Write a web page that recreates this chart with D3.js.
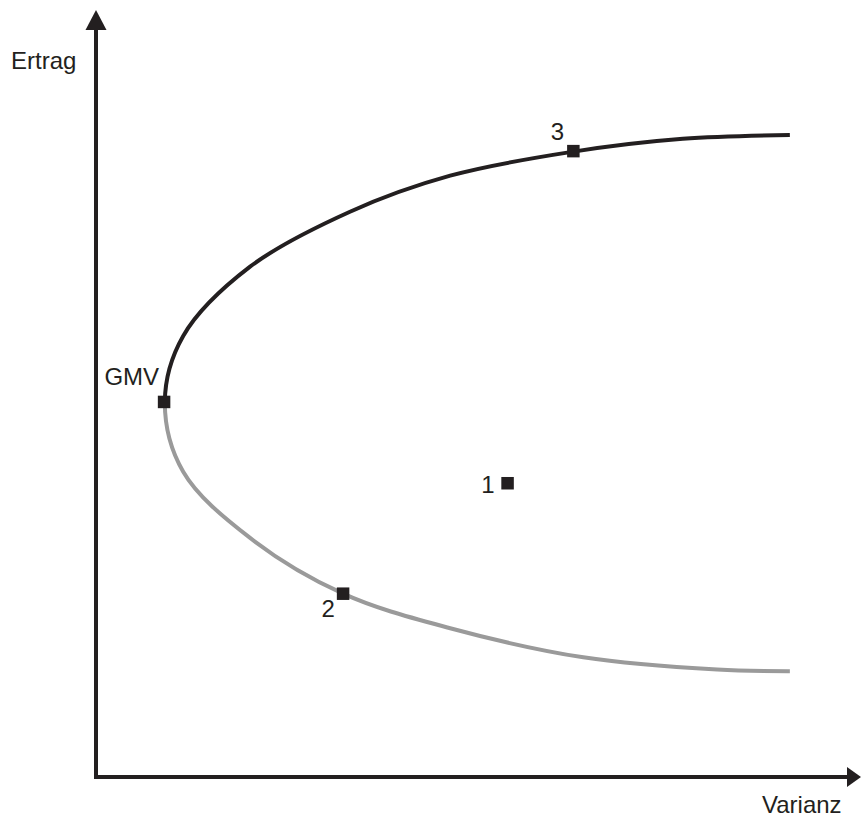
<!DOCTYPE html>
<html lang="de">
<head>
  <meta charset="UTF-8">
  <title>Effizienzkurve</title>
  <style>
    body { margin: 0; background: #fff; }
    text { font-family: "Liberation Sans", Arial, sans-serif; fill: #231f20; }
  </style>
</head>
<body>
<script src="https://d3js.org/d3.v7.min.js"></script>
<div id="chart"></div>
<script>
  // DATA ======================================================================
  // frontier traced from the lower end, through the GMV vertex, to the upper end
  const frontierVarianz = [90.7, 81.2, 63.7, 46.3, 32.3, 20.1, 11.4, 9.0,
                           11.4, 20.1, 33.2, 46.3, 62.2, 76.7, 90.7];
  const frontierErtrag  = [13.8, 14.0, 15.6, 19.4, 23.9, 31.2, 39.8, 48.9,
                           57.5, 66.5, 73.7, 78.4, 81.5, 83.2, 83.7];

  const pointNames   = ["GMV", "3", "2", "1"];
  const pointVarianz = [8.9, 62.4, 32.3, 53.8];
  const pointErtrag  = [48.9, 81.6, 23.9, 38.3];

  const gmvErtrag = 48.9;
  const xLabel = "Varianz", yLabel = "Ertrag";

  // PLOT AREA =================================================================
  const W = 861, H = 817;
  const ink = "#231f20";

  const svg = d3.select("#chart").append("svg")
      .attr("width", W).attr("height", H);

  const x = d3.scaleLinear().domain([0, 100]).range([96, 861]);
  const y = d3.scaleLinear().domain([0, 100]).range([777, 10]);

  // AXES (plain lines with arrow heads) =======================================
  const axes = svg.append("g").attr("stroke", ink).attr("stroke-width", 4);
  axes.append("line")
      .attr("x1", x(0)).attr("x2", x(0))
      .attr("y1", y(0) + 2).attr("y2", y(100) + 18);
  axes.append("line")
      .attr("x1", x(0) - 2).attr("x2", x(100) - 12)
      .attr("y1", y(0)).attr("y2", y(0));

  svg.append("path")
      .attr("fill", ink)
      .attr("d", `M${x(0)},${y(100)} L${x(0) + 10.5},${y(100) + 20} L${x(0) - 10.5},${y(100) + 20}Z`);
  svg.append("path")
      .attr("fill", ink)
      .attr("d", `M${x(100)},${y(0)} L${x(100) - 14},${y(0) - 10} L${x(100) - 14},${y(0) + 10}Z`);

  svg.append("text").attr("x", 11).attr("y", 69)
      .style("font-size", "24px").text(yLabel);
  svg.append("text").attr("x", 762).attr("y", 813)
      .style("font-size", "24px").text(xLabel);

  // FRONTIER ==================================================================
  const frontier = frontierVarianz.map((v, i) => ({v: v, e: frontierErtrag[i]}));
  const line = d3.line()
      .x(d => x(d.v))
      .y(d => y(d.e))
      .curve(d3.curveCatmullRom.alpha(0.5));

  // one path, split in colour at the GMV level
  const defs = svg.append("defs");
  defs.append("clipPath").attr("id", "upper")
    .append("rect").attr("x", 0).attr("y", 0).attr("width", W).attr("height", y(gmvErtrag));
  defs.append("clipPath").attr("id", "lower")
    .append("rect").attr("x", 0).attr("y", y(gmvErtrag)).attr("width", W).attr("height", H - y(gmvErtrag));

  svg.append("path").datum(frontier)
      .attr("clip-path", "url(#lower)")
      .attr("fill", "none").attr("stroke", "#9a9a9a").attr("stroke-width", 4)
      .attr("d", line);
  svg.append("path").datum(frontier)
      .attr("clip-path", "url(#upper)")
      .attr("fill", "none").attr("stroke", ink).attr("stroke-width", 4)
      .attr("d", line);

  // POINTS ====================================================================
  const points = pointNames.map((n, i) => ({name: n, v: pointVarianz[i], e: pointErtrag[i]}));
  const labelOffset = {
    "GMV": {dx: -5, dy: -17, anchor: "end"},
    "3":   {dx: -16, dy: -11, anchor: "middle"},
    "2":   {dx: -15, dy: 23, anchor: "middle"},
    "1":   {dx: -13, dy: 10, anchor: "end"}
  };
  const sq = 12.5;

  svg.selectAll("rect.pt").data(points).join("rect")
      .attr("class", "pt")
      .attr("x", d => x(d.v) - sq / 2)
      .attr("y", d => y(d.e) - sq / 2)
      .attr("width", sq).attr("height", sq)
      .attr("fill", ink);

  svg.selectAll("text.lbl").data(points).join("text")
      .attr("class", "lbl")
      .attr("x", d => x(d.v) + labelOffset[d.name].dx)
      .attr("y", d => y(d.e) + labelOffset[d.name].dy)
      .attr("text-anchor", d => labelOffset[d.name].anchor)
      .style("font-size", "24px")
      .text(d => d.name);
</script>
</body>
</html>
